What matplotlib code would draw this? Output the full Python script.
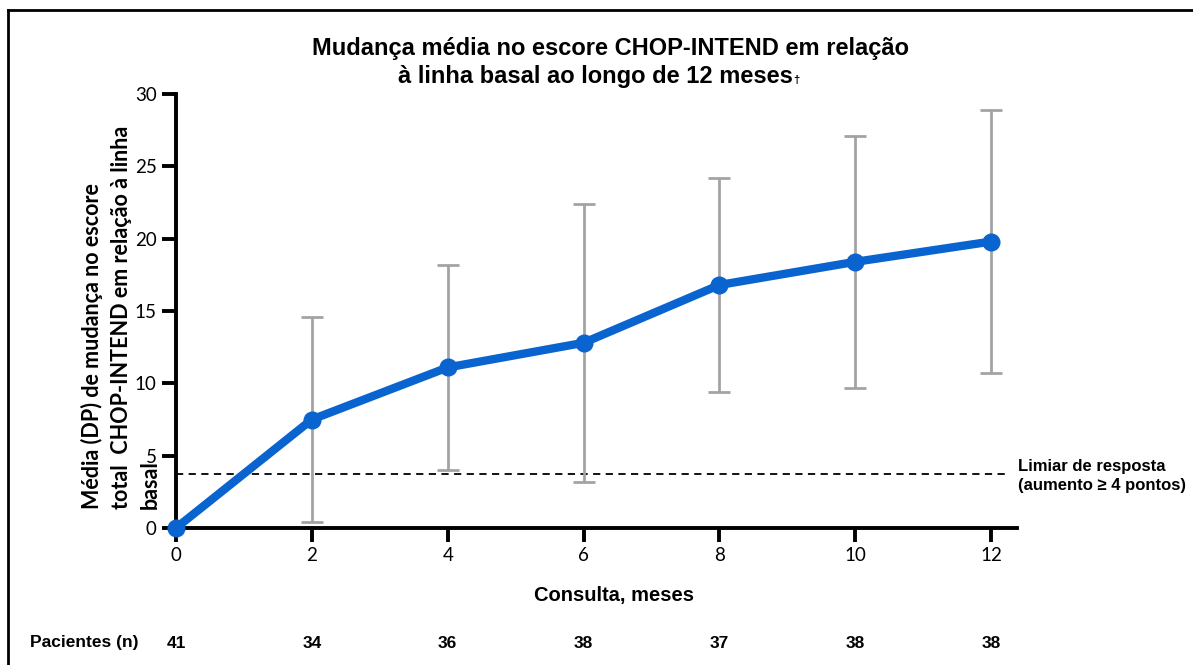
import matplotlib
matplotlib.use("Agg")
import matplotlib.pyplot as plt
from matplotlib.lines import Line2D

# Visit months, mean change from baseline and SD
months = [0, 2, 4, 6, 8, 10, 12]
mean_change = [0.0, 7.5, 11.1, 12.8, 16.8, 18.4, 19.8]
sd_change = [0.0, 7.1, 7.1, 9.6, 7.4, 8.7, 9.1]
patients_n = [41, 34, 36, 38, 37, 38, 38]
response_threshold = 3.7
yticks = [0, 5, 10, 15, 20, 25, 30]
ylabel_lines = ["Média (DP) de mudança no escore",
                "total  CHOP-INTEND em relação à linha",
                "basal"]

W, H = 1193, 665
fig = plt.figure(figsize=(W / 100, H / 100), dpi=100)
fig.patch.set_facecolor("white")

left, right, bottom, top = 176, 1017, 528, 94
ax = fig.add_axes([left / W, 1 - bottom / H, (right - left) / W, (bottom - top) / H])

blue = "#0A64CF"
grey = "#A3A3A3"

# error bars (skip baseline, which has no spread)
ax.errorbar(months[1:], mean_change[1:], yerr=sd_change[1:], fmt="none",
            ecolor=grey, elinewidth=2.0, capsize=8, capthick=2.0, zorder=2)
ax.plot(months, mean_change, color=blue, lw=6, marker="o", ms=12,
        zorder=3, clip_on=False, solid_capstyle="butt")

ax.plot([0, 12.2], [response_threshold] * 2, color="black", lw=1.3,
        ls=(0, (4, 3)), zorder=1, clip_on=False)

ax.set_xlim(0, 12.38)
ax.set_ylim(0, 30)
ax.set_xticks(months)
ax.set_yticks(yticks)
for s in ("top", "right"):
    ax.spines[s].set_visible(False)
for s in ("left", "bottom"):
    ax.spines[s].set_linewidth(2.8)
ax.tick_params(axis="both", direction="out", length=10, width=2.8,
               labelsize=13.5, pad=4)
for lab in ax.get_xticklabels() + ax.get_yticklabels():
    lab.set_fontfamily("Lato")

# title
tfont = dict(family="Liberation Sans", weight="bold", fontsize=17)
fig.text(611 / W, 1 - 48 / H, "Mudança média no escore CHOP-INTEND em relação",
         ha="center", va="center", **tfont)
line2 = fig.text(595 / W, 1 - 76 / H, "à linha basal ao longo de 12 meses",
                 ha="center", va="center", **tfont)
renderer = fig.canvas.get_renderer()
bb = line2.get_window_extent(renderer)
fig.text(bb.x1 / W + 0.001, 1 - 80 / H, "†", ha="left", va="center",
         family="Liberation Sans", weight="bold", fontsize=8)

# y label, one rotated line per text, all starting at the same height
for x_px, txt in zip([92, 121, 150], ylabel_lines):
    fig.text(x_px / W, 1 - 509 / H, txt, rotation=90, ha="center",
             va="bottom", family="Lato", weight="bold", fontsize=15.5)

# x label
fig.text(614 / W, 1 - 595 / H, "Consulta, meses", ha="center", va="center",
         family="Liberation Sans", weight="bold", fontsize=14.5)

# patient counts row
fig.text(30 / W, 1 - 643 / H, "Pacientes (n)", ha="left", va="center",
         family="Liberation Sans", weight="bold", fontsize=12.5)
for m, n in zip(months, patients_n):
    x_px = ax.transData.transform((m, 0))[0]
    fig.text(x_px / W, 1 - 643 / H, str(n), ha="center", va="center",
             family="Liberation Sans", weight="bold", fontsize=12.5)

# threshold annotation
fig.text(1018 / W, 1 - 476 / H, "Limiar de resposta\n(aumento ≥ 4 pontos)",
         ha="left", va="center", family="Liberation Sans", weight="bold",
         fontsize=12, linespacing=1.3)

# outer frame
fig.add_artist(Line2D([8 / W, 1.0], [1 - 10 / H] * 2, color="black", lw=2,
                      transform=fig.transFigure))
fig.add_artist(Line2D([8 / W] * 2, [0, 1 - 10 / H], color="black", lw=2,
                      transform=fig.transFigure))

fig.savefig("out.png", dpi=100)
